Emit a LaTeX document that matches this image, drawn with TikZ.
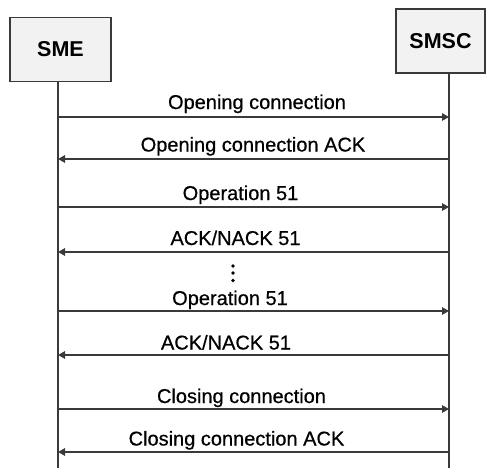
\documentclass[tikz,border=0pt]{standalone}
\usepackage{fontspec}
\setmainfont{Liberation Sans}
\newfontfamily\lblfont[FakeBold=0.6]{Liberation Sans}
\usetikzlibrary{arrows.meta}
\definecolor{boxfill}{HTML}{F2F2F2}
\definecolor{linecol}{HTML}{3A3A3A}
\begin{document}
\begin{tikzpicture}[x=1pt,y=-1pt,
 entity/.style={draw=linecol, line width=1.2pt, fill=boxfill, inner sep=0pt, font=\fontsize{21.5}{26}\selectfont\bfseries},
 life/.style={draw=linecol, line width=1.2pt},
 msg/.style={draw=linecol, line width=1.3pt, -{Triangle[length=7pt,width=7.5pt]}},
 lbl/.style={anchor=base, inner sep=0pt, font=\lblfont\fontsize{20}{24}\selectfont},
 vdot/.style={circle, fill=black, inner sep=0pt, minimum size=3.6pt}]
\useasboundingbox (0,0) rectangle (486,468);
% entities
\node[entity, minimum width=101pt, minimum height=64pt] (sme) at (60.5,49.5) {SME};
\node[entity, minimum width=89pt, minimum height=64pt] (smsc) at (440.5,41) {SMSC};
% lifelines
\coordinate (smeEnd) at (58,468);
\coordinate (smscEnd) at (449,468);
\draw[life] (smeEnd |- sme.south) -- (smeEnd);
\draw[life] (smscEnd |- smsc.south) -- (smscEnd);
% message end points
\foreach \i/\y in {1/117,2/159,3/207,4/252,5/311,6/355,7/409,8/452}{
  \coordinate (l\i) at (58,\y);
  \coordinate (r\i) at (449,\y);
}
\draw[msg] (l1) -- (r1);
\draw[msg] (r2) -- (l2);
\draw[msg] (l3) -- (r3);
\draw[msg] (r4) -- (l4);
\draw[msg] (l5) -- (r5);
\draw[msg] (r6) -- (l6);
\draw[msg] (l7) -- (r7);
\draw[msg] (r8) -- (l8);
% labels
\node[lbl] (t1) at (257,109) {Opening connection};
\node[lbl] (t2) at (253,151.5) {Opening connection ACK};
\node[lbl] (t3) at (240.5,200) {Operation 51};
\node[lbl] (t4) at (235.5,245) {ACK/NACK 51};
\node[lbl] (t5) at (230,305) {Operation 51};
\node[lbl] (t6) at (226,349.5) {ACK/NACK 51};
\node[lbl] (t7) at (241.5,403) {Closing connection};
\node[lbl] (t8) at (236.5,445.5) {Closing connection ACK};
% ellipsis dots
\node[vdot] (d1) at (233,266) {};
\node[vdot] (d2) at (233,273) {};
\node[vdot] (d3) at (233,280.5) {};
\end{tikzpicture}
\end{document}
